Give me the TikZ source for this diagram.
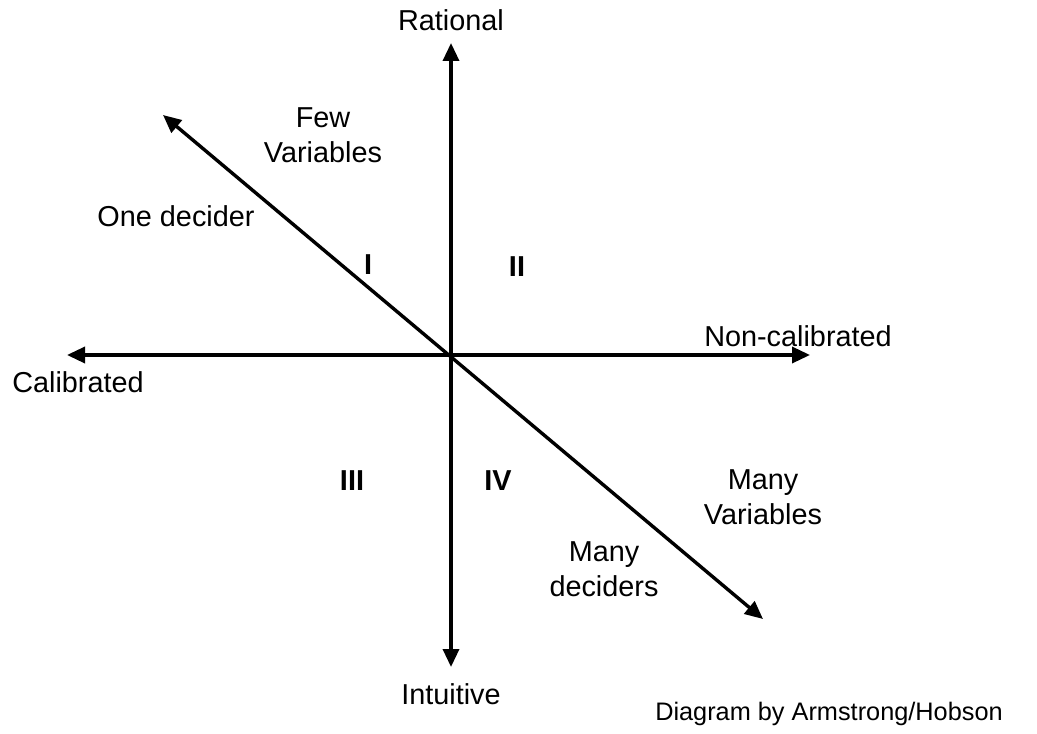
\documentclass[tikz,border=0pt]{standalone}
\usepackage{fontspec}
\setmainfont{Liberation Sans}
\usepackage{tikz}
\usetikzlibrary{arrows.meta, positioning}
\tikzset{
    axisline/.style={
        {Triangle[length=0.45cm,width=0.4cm]}-{Triangle[length=0.45cm,width=0.4cm]},
        line width=0.085cm
    },
    axislabel/.style={
        font=\fontsize{20.5}{25}\selectfont,
        align=center,
        inner sep=0pt
    },
    quadlabel/.style={
        font=\fontsize{20.5}{25}\selectfont\bfseries,
        inner sep=0pt
    },
    creditlabel/.style={
        font=\fontsize{18}{22}\selectfont,
        inner sep=0pt
    }
}

\begin{document}
\begin{tikzpicture}[x=0.025cm, y=-0.025cm]
    \useasboundingbox (0,0) rectangle (1037,734);

    % axis ends
    \coordinate (origin) at (451,355);
    \coordinate (top) at (451,43);
    \coordinate (bottom) at (451,667);
    \coordinate (left) at (67,355);
    \coordinate (right) at (810,355);
    \coordinate (diagtop) at (163,115);
    \coordinate (diagbot) at (763,619);

    \draw[axisline] (bottom) -- (top);
    \draw[axisline] (left) -- (right);
    \draw[axisline] (diagtop) -- (diagbot);

    % axis texts
    \node[axislabel] (rational) at (451,20) {Rational};
    \node[axislabel] (intuitive) at (451,694) {Intuitive};
    \node[axislabel] (calibrated) at (78,382) {Calibrated};
    \node[axislabel] (noncal) at (798,336) {Non-calibrated};
    \node[axislabel] (fewvar) at (323,135) {Few\\Variables};
    \node[axislabel] (onedec) at (176,216) {One decider};
    \node[axislabel] (manyvar) at (763,497) {Many\\Variables};
    \node[axislabel] (manydec) at (604,569) {Many\\deciders};

    % quadrants
    \node[quadlabel] (q1) at (368,265) {I};
    \node[quadlabel] (q2) at (517,267) {II};
    \node[quadlabel] (q3) at (352,481) {III};
    \node[quadlabel] (q4) at (498,481) {IV};

    \node[creditlabel] (credit) at (829,714) {Diagram by Armstrong/Hobson};
\end{tikzpicture}
\end{document}
